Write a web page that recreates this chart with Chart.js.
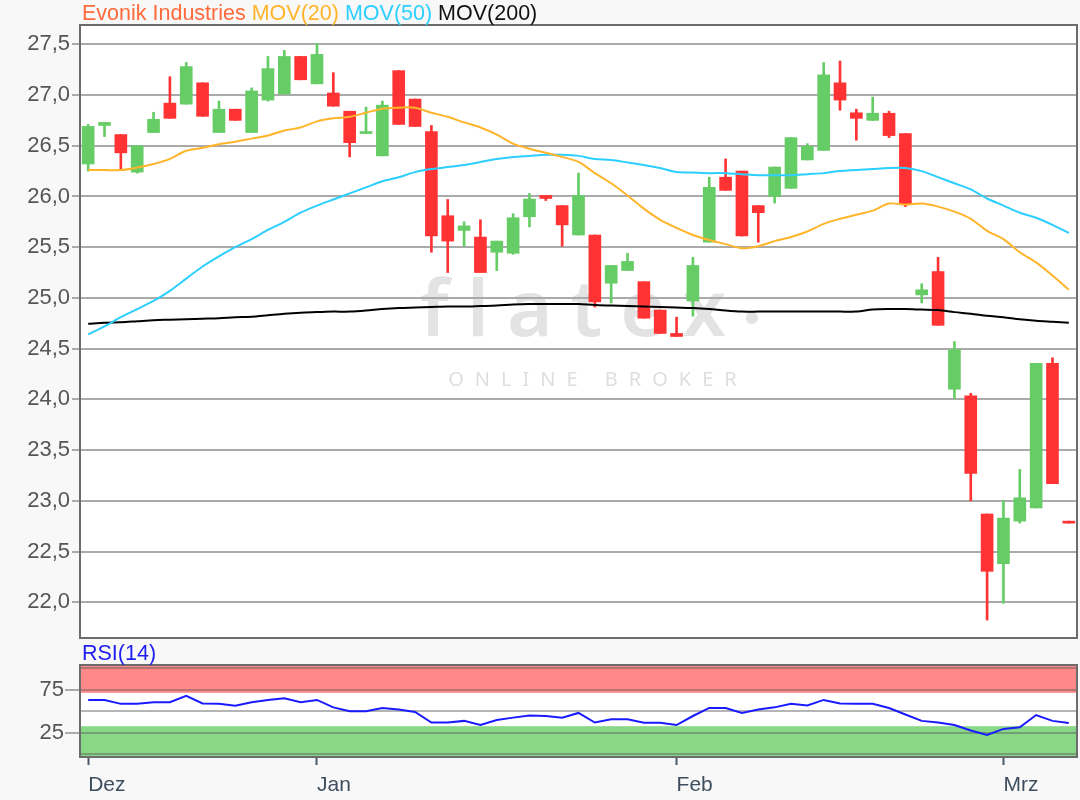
<!DOCTYPE html>
<html>
<head>
<meta charset="utf-8">
<script src="https://cdn.jsdelivr.net/npm/chart.js@4/dist/chart.umd.min.js"></script>
<style>
  body { margin: 0; background: #f8f8f8; width: 1080px; height: 800px; overflow: hidden; position: relative;
         font-family: "Liberation Sans", Arial, sans-serif; }
  canvas { position: absolute; left: 0; }
  #main { top: 0; }
  #rsi { top: 645px; }
  .lbl { position: absolute; left: 82px; font-size: 21.5px; line-height: 24px; white-space: nowrap; }
  #title { top: 1px; }
  #rsiTitle { top: 641px; color: #1e1ef0; }
</style>
</head>
<body>
<canvas id="main" width="1080" height="645"></canvas>
<canvas id="rsi" width="1080" height="155"></canvas>
<div id="title" class="lbl"><span style="color:#ff6a3d">Evonik Industries</span> <span style="color:#ffb42a">MOV(20)</span> <span style="color:#2ccfff">MOV(50)</span> <span style="color:#111">MOV(200)</span></div>
<div id="rsiTitle" class="lbl">RSI(14)</div>
<script>
// Handelstage
const days = [
  '06.12.2019','09.12.2019','10.12.2019','11.12.2019','12.12.2019','13.12.2019','16.12.2019','17.12.2019',
  '18.12.2019','19.12.2019','20.12.2019','23.12.2019','27.12.2019','30.12.2019',
  '02.01.2020','03.01.2020','06.01.2020','07.01.2020','08.01.2020','09.01.2020','10.01.2020','13.01.2020',
  '14.01.2020','15.01.2020','16.01.2020','17.01.2020','20.01.2020','21.01.2020','22.01.2020','23.01.2020',
  '24.01.2020','27.01.2020','28.01.2020','29.01.2020','30.01.2020','31.01.2020',
  '03.02.2020','04.02.2020','05.02.2020','06.02.2020','07.02.2020','10.02.2020','11.02.2020','12.02.2020',
  '13.02.2020','14.02.2020','17.02.2020','18.02.2020','19.02.2020','20.02.2020','21.02.2020','24.02.2020',
  '25.02.2020','26.02.2020','27.02.2020','28.02.2020',
  '02.03.2020','03.03.2020','04.03.2020','05.03.2020','06.03.2020'
];
const monthNames = ['Jan','Feb','Mrz','Apr','Mai','Jun','Jul','Aug','Sep','Okt','Nov','Dez'];

const open = [26.32,26.70,26.61,26.24,26.63,26.92,26.91,27.12,26.63,26.86,26.63,26.95,27.01,27.38,
  27.11,27.02,26.84,26.62,26.40,27.24,26.96,26.64,25.81,25.665,25.60,25.45,25.44,25.80,26.01,25.91,25.62,25.62,
  25.145,25.27,25.16,24.88,
  24.65,24.97,25.55,26.19,26.25,25.91,26.00,26.08,26.36,26.455,27.12,26.825,26.75,26.82,26.62,25.03,
  25.26,24.10,24.035,22.87,
  22.38,22.80,22.93,24.355,22.80];
const high = [26.71,26.73,26.61,26.50,26.83,27.18,27.32,27.12,26.94,26.86,27.07,27.38,27.44,27.38,
  27.51,27.22,26.84,26.88,26.94,27.24,26.96,26.70,25.97,25.75,25.77,25.56,25.83,26.03,26.01,25.91,26.23,25.62,
  25.32,25.44,25.16,24.88,
  24.81,25.40,26.19,26.37,26.25,25.91,26.29,26.58,26.52,27.32,27.335,26.86,26.98,26.84,26.62,25.14,
  25.40,24.57,24.06,22.87,
  23.00,23.31,24.355,24.41,22.80];
const low = [26.25,26.59,26.26,26.23,26.63,26.77,26.91,26.79,26.63,26.75,26.63,26.94,27.01,27.15,
  27.11,26.89,26.39,26.62,26.40,26.71,26.69,25.45,25.25,25.51,25.25,25.27,25.43,25.70,25.96,25.51,25.62,24.91,
  24.95,25.27,24.80,24.65,
  24.62,24.82,25.55,26.06,25.61,25.55,25.935,26.08,26.36,26.455,26.85,26.555,26.75,26.58,25.90,24.95,
  24.73,24.01,23.00,21.825,
  21.99,22.78,22.93,23.17,22.78];
const close = [26.69,26.73,26.43,26.50,26.76,26.77,27.28,26.79,26.86,26.75,27.04,27.26,27.38,27.15,
  27.40,26.89,26.53,26.64,26.90,26.71,26.69,25.61,25.56,25.71,25.25,25.56,25.79,25.975,25.98,25.72,26.01,24.96,
  25.32,25.36,24.80,24.65,
  24.62,25.32,26.09,26.06,25.61,25.84,26.29,26.58,26.495,27.20,26.95,26.77,26.82,26.60,25.92,25.08,
  24.73,24.49,23.27,22.305,
  22.83,23.03,24.355,23.17,22.78];

const mov20 = [26.26,26.26,26.26,26.285,26.32,26.37,26.45,26.48,26.515,26.54,26.57,26.60,26.65,26.68,
  26.74,26.77,26.785,26.825,26.865,26.875,26.875,26.825,26.785,26.73,26.68,26.61,26.52,26.47,26.43,26.39,26.34,26.23,
  26.13,26.01,25.88,25.77,
  25.69,25.62,25.57,25.53,25.49,25.51,25.56,25.60,25.655,25.73,25.78,25.82,25.86,25.93,25.92,25.93,
  25.90,25.85,25.78,25.66,
  25.58,25.45,25.35,25.22,25.08];
const mov50 = [24.64,24.72,24.81,24.89,24.97,25.07,25.19,25.31,25.41,25.50,25.58,25.67,25.75,25.84,
  25.91,25.97,26.03,26.09,26.15,26.19,26.24,26.27,26.29,26.31,26.34,26.37,26.39,26.40,26.41,26.41,26.40,26.37,
  26.36,26.335,26.31,26.28,
  26.24,26.235,26.23,26.23,26.22,26.21,26.21,26.21,26.22,26.23,26.25,26.26,26.27,26.28,26.28,26.25,
  26.19,26.13,26.07,25.98,
  25.91,25.84,25.79,25.72,25.64];
const mov200 = [24.745,24.755,24.76,24.77,24.78,24.785,24.79,24.795,24.80,24.81,24.815,24.83,24.845,24.855,
  24.86,24.865,24.865,24.875,24.89,24.90,24.905,24.91,24.915,24.915,24.92,24.925,24.935,24.94,24.94,24.94,24.94,24.93,
  24.925,24.92,24.915,24.91,
  24.905,24.90,24.89,24.875,24.865,24.865,24.865,24.865,24.865,24.865,24.865,24.865,24.885,24.89,24.89,24.885,
  24.88,24.86,24.845,24.825,
  24.81,24.79,24.775,24.765,24.755];
const rsi14 = [63.2,63.2,58.6,58.6,60.5,60.5,68,59,58.6,56.4,60.5,63.2,65,60.5,
  63.2,54.5,50,50,53.8,51.9,49.2,36.8,36.8,38.7,33.8,39.8,42.5,45.1,44.4,42.5,48,36.8,
  40.6,40.6,36.5,36.5,
  33.8,44.4,53.8,53.8,48,51.9,54.5,58.6,56.8,63.2,59,58.6,58.6,53.8,46.2,38.7,
  36.8,33.8,27.4,22.2,
  29.3,31.2,45.5,38.7,36.1];

const rsiTicks = [0, 25, 50, 75, 100];
const rsiLabelled = [25, 75];

// Monatsanfänge für die x-Achse
const monthTicks = [];
days.forEach((d, i) => {
  const m = +d.slice(3, 5);
  if (i === 0 || m !== +days[i - 1].slice(3, 5)) monthTicks.push(i);
});

const FONT = '"Liberation Sans", Arial, sans-serif';
const UP = '#66cc66', DOWN = '#ff3333';
const candleColors = open.map((o, i) => close[i] >= o ? UP : DOWN);

const frame = {
  id: 'frame',
  beforeDraw(chart) {
    const {ctx, chartArea: a} = chart;
    ctx.save();
    ctx.fillStyle = '#fff';
    ctx.fillRect(a.left, a.top, a.width, a.height);
    const bands = chart.options.plugins.frame.bands || [];
    const y = chart.scales.y;
    bands.forEach(b => {
      const y1 = Math.max(a.top, y.getPixelForValue(b.to));
      const y2 = Math.min(a.bottom, y.getPixelForValue(b.from));
      ctx.fillStyle = b.color;
      ctx.fillRect(a.left, y1, a.width, y2 - y1);
    });
    if (chart.options.plugins.frame.watermark) {
      ctx.fillStyle = '#e3e3e3';
      ctx.textAlign = 'center';
      ctx.textBaseline = 'alphabetic';
      ctx.font = '600 78px "Noto Sans"';
      ctx.letterSpacing = '18px';
      ctx.fillText('flatex', 582, 336);
      ctx.beginPath();
      ctx.arc(752, 318, 6, 0, Math.PI * 2);
      ctx.fill();
      ctx.fillStyle = '#dedede';
      ctx.font = '20px "Noto Sans"';
      ctx.letterSpacing = '11px';
      ctx.fillText('ONLINE BROKER', 598, 386);
    }
    ctx.restore();
  },
  afterDatasetsDraw(chart) {
    const {ctx, chartArea: a} = chart;
    ctx.save();
    ctx.strokeStyle = '#6c6c6c';
    ctx.lineWidth = 2;
    ctx.strokeRect(a.left, a.top, a.width, a.height);
    ctx.restore();
  }
};

function fixWidth(scale) {
  scale.width = 80;
  scale.paddingTop = 0;
  scale.paddingBottom = 0;
}

new Chart(document.getElementById('main'), {
  type: 'bar',
  data: {
    labels: days,
    datasets: [
      { type: 'line', label: 'MOV(20)', data: mov20, borderColor: '#ffb42a', borderWidth: 2,
        pointRadius: 0, tension: 0.3, order: 0 },
      { type: 'line', label: 'MOV(50)', data: mov50, borderColor: '#2ccfff', borderWidth: 2,
        pointRadius: 0, tension: 0.3, order: 0 },
      { type: 'line', label: 'MOV(200)', data: mov200, borderColor: '#000', borderWidth: 2,
        pointRadius: 0, tension: 0.3, order: 0 },
      { label: 'Docht', data: days.map((d, i) => [low[i], high[i]]), backgroundColor: candleColors,
        barThickness: 2, grouped: false, order: 2 },
      { label: 'Kerze', data: days.map((d, i) => [open[i], close[i]]), backgroundColor: candleColors,
        barThickness: 12, grouped: false, order: 1 }
    ]
  },
  options: {
    responsive: false,
    animation: false,
    layout: { padding: { top: 25, right: 3, bottom: 7, left: 0 } },
    plugins: { legend: { display: false }, tooltip: { enabled: false }, frame: { watermark: true } },
    scales: {
      x: { display: false, offset: true },
      y: {
        min: 21.648, max: 27.69,
        afterFit: fixWidth,
        border: { display: false },
        grid: { color: '#aaaaaa', lineWidth: 2, tickLength: 8, tickColor: '#aaaaaa' },
        ticks: {
          stepSize: 0.5, includeBounds: false, autoSkip: false, padding: 2, color: '#555',
          font: { family: FONT, size: 22 },
          callback: v => v.toFixed(1).replace('.', ',')
        }
      }
    }
  },
  plugins: [frame]
});

new Chart(document.getElementById('rsi'), {
  type: 'line',
  data: {
    labels: days,
    datasets: [{ label: 'RSI(14)', data: rsi14, borderColor: '#1a1aff', borderWidth: 2, pointRadius: 0, tension: 0 }]
  },
  options: {
    responsive: false,
    animation: false,
    layout: { padding: { top: 20, right: 3, bottom: 0, left: 0 } },
    plugins: {
      legend: { display: false }, tooltip: { enabled: false },
      frame: { bands: [ { from: 71.5, to: 110, color: '#ff8888' }, { from: -10, to: 32.5, color: '#88d888' } ] }
    },
    scales: {
      x: {
        offset: true,
        afterBuildTicks: s => { s.ticks = monthTicks.map(i => ({ value: i })); },
        afterFit: s => { s.height = 43; },
        border: { display: false },
        grid: { offset: false, drawOnChartArea: false, tickLength: 8, tickWidth: 2, tickColor: '#4a5a6a' },
        ticks: {
          autoSkip: false, maxRotation: 0, align: 'start', padding: 8, color: '#3e4e5e',
          font: { family: FONT, size: 21 },
          callback: v => monthNames[+days[v].slice(3, 5) - 1]
        }
      },
      y: {
        min: -3.5, max: 104,
        afterFit: fixWidth,
        afterBuildTicks: s => { s.ticks = rsiTicks.map(v => ({ value: v })); },
        border: { display: false },
        grid: {
          color: 'rgba(90,90,90,0.45)', lineWidth: 2, tickLength: 15,
          tickColor: c => rsiLabelled.includes(c.tick.value) ? '#aaaaaa' : 'rgba(0,0,0,0)'
        },
        ticks: {
          autoSkip: false, padding: 1, color: '#555', font: { family: FONT, size: 22 },
          callback: v => rsiLabelled.includes(v) ? v : ''
        }
      }
    }
  },
  plugins: [frame]
});
</script>
</body>
</html>
